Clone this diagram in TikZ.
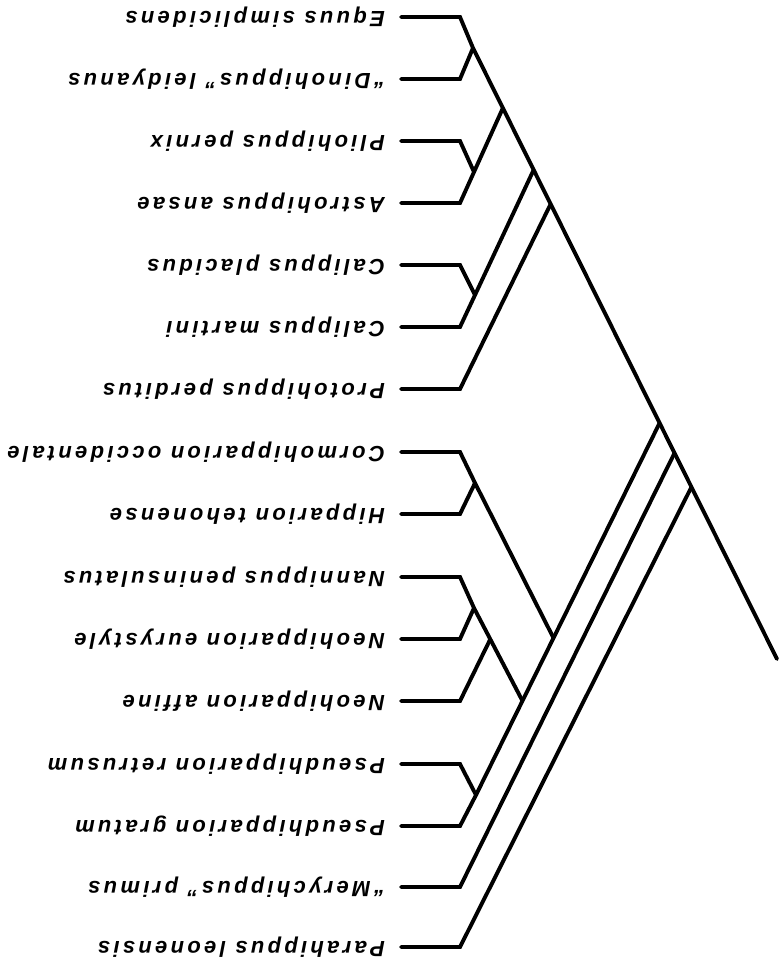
\documentclass[tikz,border=0pt]{standalone}
\usepackage{fontspec}
\setmainfont{Liberation Sans}
\newfontfamily\labfont[LetterSpace=15]{Liberation Sans}
\usetikzlibrary{calc}
\begin{document}
\begin{tikzpicture}[x=1pt,y=-1pt,
  br/.style={line width=3.9pt, line cap=round, line join=miter},
  lbl/.style={rotate=180, anchor=west, inner sep=0pt, font=\labfont\bfseries\itshape\fontsize{22}{26}\selectfont}]
\useasboundingbox (0,0) rectangle (781,961);
% tips
\foreach \i/\y in {1/17,2/79,3/141,4/203,5/265,6/327,7/389,8/452,9/514,10/577,11/639,12/701,13/764,14/826,15/887,16/947}{
  \coordinate (t\i) at (460,\y);
  \coordinate (s\i) at (401,\y);
}
% labels
\node[lbl] (l1) at (385,17) {Equus simplicidens};
\node[lbl] (l2) at (385,79) {“Dinohippus” leidyanus};
\node[lbl] (l3) at (385,141) {Pliohippus pernix};
\node[lbl] (l4) at (385,203) {Astrohippus ansae};
\node[lbl] (l5) at (385,265) {Calippus placidus};
\node[lbl] (l6) at (385,327) {Calippus martini};
\node[lbl] (l7) at (385,389) {Protohippus perditus};
\node[lbl] (l8) at (385,452) {Cormohipparion occidentale};
\node[lbl] (l9) at (385,514) {Hipparion tehonense};
\node[lbl] (l10) at (385,577) {Nannippus peninsulatus};
\node[lbl] (l11) at (385,639) {Neohipparion eurystyle};
\node[lbl] (l12) at (385,701) {Neohipparion affine};
\node[lbl] (l13) at (385,764) {Pseudhipparion retrusum};
\node[lbl] (l14) at (385,826) {Pseudhipparion gratum};
\node[lbl] (l15) at (385,887) {“Merychippus” primus};
\node[lbl] (l16) at (385,947) {Parahippus leonensis};
% inner nodes
\coordinate (n12) at (473,48);
\coordinate (R) at (777,659);
\coordinate (n34) at (474,172);
\coordinate (n56) at (475,295);
\coordinate (nCH) at (475,483);
\coordinate (nNE) at (474,608);
\coordinate (nPs) at (476,795);
\coordinate (hA) at (0,423); \coordinate (hA') at (800,423);
\coordinate (hB) at (0,453); \coordinate (hB') at (800,453);
\coordinate (hC) at (0,487); \coordinate (hC') at (800,487);
\coordinate (A) at (intersection of n12--R and hA--hA');
\coordinate (B) at (intersection of n12--R and hB--hB');
\coordinate (C) at (intersection of n12--R and hC--hC');
\coordinate (j34) at (intersection of t4--n34 and n12--R);
\coordinate (j56) at (intersection of t6--n56 and n12--R);
\coordinate (p7) at (509,289);
\coordinate (j7) at (intersection of t7--p7 and n12--R);
\coordinate (pCH) at (553,637);
\coordinate (J1) at (intersection of nCH--pCH and A--nPs);
\coordinate (pNE) at (522,700);
\coordinate (J2) at (intersection of nNE--pNE and A--nPs);
\coordinate (p12) at (509,601);
\coordinate (J3) at (intersection of t12--p12 and nNE--J2);
% branches
\draw[br] (s1)--(t1)--(n12)--(R);
\draw[br] (s2)--(t2)--(n12);
\draw[br] (s3)--(t3)--(n34);
\draw[br] (s4)--(t4)--(n34)--(j34);
\draw[br] (s5)--(t5)--(n56);
\draw[br] (s6)--(t6)--(n56)--(j56);
\draw[br] (s7)--(t7)--(j7);
\draw[br] (s8)--(t8)--(nCH)--(J1);
\draw[br] (s9)--(t9)--(nCH);
\draw[br] (s10)--(t10)--(nNE)--(J2);
\draw[br] (s11)--(t11)--(nNE);
\draw[br] (s12)--(t12)--(J3);
\draw[br] (A)--(nPs);
\draw[br] (s13)--(t13)--(nPs)--(t14)--(s14);
\draw[br] (s15)--(t15)--(B);
\draw[br] (s16)--(t16)--(C);
\end{tikzpicture}
\end{document}
